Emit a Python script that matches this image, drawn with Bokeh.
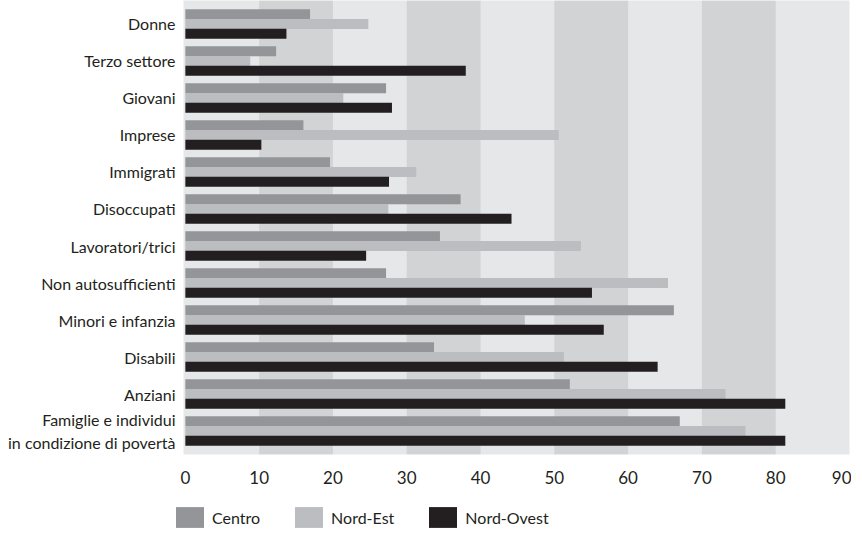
from bokeh.plotting import figure
from bokeh.layouts import column
from bokeh.models import Range1d, FactorRange, BoxAnnotation, Legend, LegendItem, ColumnDataSource
from bokeh.transform import dodge
from bokeh.embed import file_html
from bokeh.resources import INLINE

categories = ["Donne", "Terzo settore", "Giovani", "Imprese", "Immigrati", "Disoccupati",
              "Lavoratori/trici", "Non autosufficienti", "Minori e infanzia", "Disabili",
              "Anziani", "Famiglie e individui\nin condizione di povertà"]
centro = [16.9, 12.3, 27.2, 16.0, 19.6, 37.3, 34.5, 27.2, 66.2, 33.7, 52.1, 67.0]
nord_est = [24.8, 8.8, 21.4, 50.6, 31.3, 27.5, 53.6, 65.4, 46.0, 51.3, 73.2, 75.9]
nord_ovest = [13.7, 38.0, 28.0, 10.3, 27.6, 44.2, 24.5, 55.1, 56.7, 64.0, 81.3, 81.3]
series_names = ["Centro", "Nord-Est", "Nord-Ovest"]
x_ticks = [0, 10, 20, 30, 40, 50, 60, 70, 80, 90]

colors = ["#939598", "#bbbdc0", "#231f20"]
band_light = "#e6e7e8"
band_dark = "#d1d3d4"
text_color = "#231f20"
FONT = "Lato"

source = ColumnDataSource(dict(cat=categories, c=centro, ne=nord_est, no=nord_ovest))

p = figure(frame_width=666, frame_height=454, output_backend="svg", toolbar_location=None,
           y_range=FactorRange(factors=list(reversed(categories)), range_padding=0.0225),
           x_range=Range1d(-0.25, 90),
           min_border_left=183, min_border_right=2, min_border_top=0, min_border_bottom=0)

p.background_fill_color = band_light
p.border_fill_color = "white"
p.outline_line_color = None
p.xgrid.visible = False
p.ygrid.visible = False

for t in x_ticks[1::2]:
    if t < x_ticks[-1]:
        p.add_layout(BoxAnnotation(left=t, right=t + 10, fill_color=band_dark, fill_alpha=1,
                                   line_alpha=0, level="underlay"))

offsets = [0.262, 0.0, -0.262]
fields = ["c", "ne", "no"]
for f, off, col in zip(fields, offsets, colors):
    p.hbar(y=dodge("cat", off, range=p.y_range), right=f, left=0, height=0.27,
           source=source, fill_color=col, line_color=None)

p.xaxis.ticker = x_ticks
for ax in (p.xaxis[0], p.yaxis[0]):
    ax.axis_line_color = None
    ax.major_tick_line_color = None
    ax.minor_tick_line_color = None
    ax.major_label_text_font = FONT
    ax.major_label_text_color = text_color
p.xaxis.major_label_text_font_size = "17px"
p.xaxis.major_label_standoff = 10
p.yaxis.major_label_text_font_size = "16px"
p.yaxis.major_label_standoff = 2

# legend strip below the chart (its own small figure, legend swatches only)
lg = figure(width=851, height=44, output_backend="svg", toolbar_location=None,
            x_range=Range1d(0, 1), y_range=Range1d(0, 1), frame_align=False,
            min_border_left=0, min_border_right=0, min_border_top=0, min_border_bottom=0)
lg.axis.visible = False
lg.grid.visible = False
lg.outline_line_color = None
lg.background_fill_color = "white"
swatch_src = ColumnDataSource(dict(y=[0.5], x0=[0.0]))
dummy = []
for col in colors:
    dummy.append(lg.hbar(y="y", right="x0", left="x0", height=0.0, source=swatch_src,
                         fill_color=col, line_color=None))

legend = Legend(items=[LegendItem(label=n, renderers=[r]) for n, r in zip(series_names, dummy)],
                orientation="horizontal", location=(172, 0),
                glyph_width=35, glyph_height=26, label_standoff=5, spacing=31,
                padding=0, margin=0, border_line_color=None, background_fill_alpha=0,
                label_text_font=FONT, label_text_font_size="16px", label_text_color=text_color)
lg.add_layout(legend, "center")

layout = column(p, lg, spacing=0)
open("out.html", "w").write(file_html(layout, INLINE))
